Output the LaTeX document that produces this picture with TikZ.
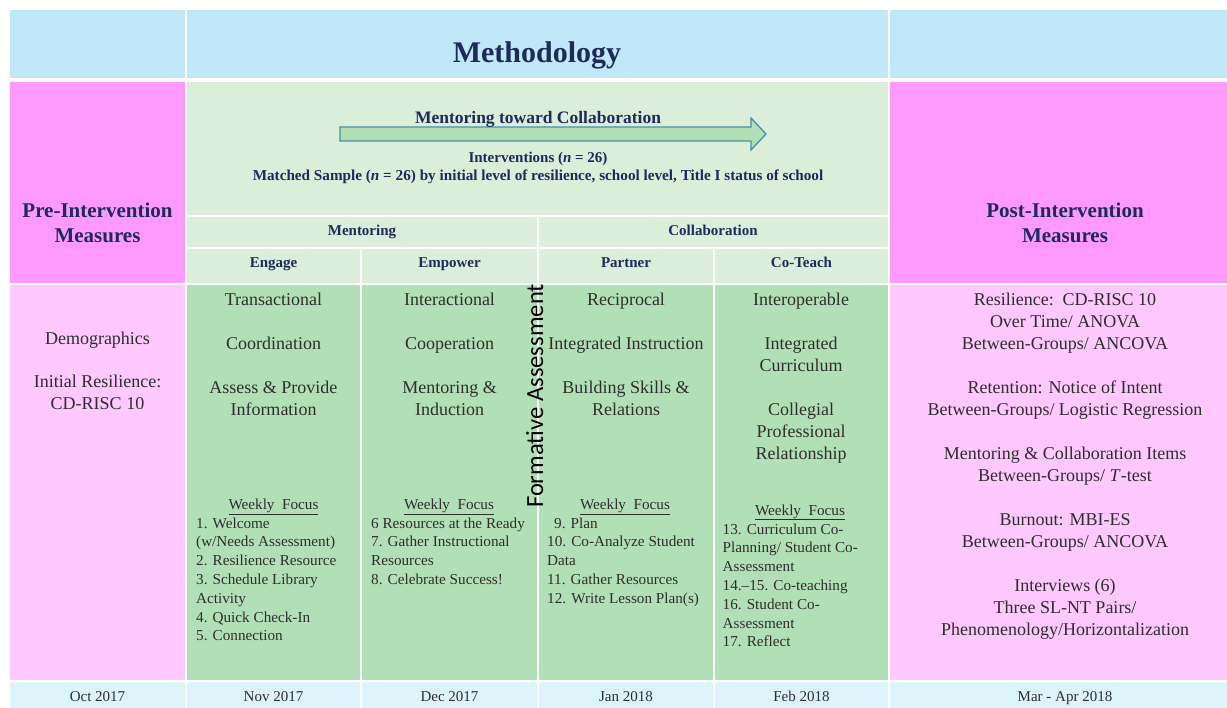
\documentclass[tikz,border=0pt]{standalone}
\usepackage{fontspec}
\setmainfont{Liberation Serif}
\newfontfamily\calibfont{Carlito}
\definecolor{titleblue}{HTML}{C0E8F8}
\definecolor{pinkhd}{HTML}{FF99FF}
\definecolor{pinklt}{HTML}{FFC8FF}
\definecolor{greenlt}{HTML}{DAEEDA}
\definecolor{greenmd}{HTML}{B2E0B6}
\definecolor{footc}{HTML}{DDF3FA}
\definecolor{navy}{HTML}{1C2B5A}
\definecolor{txt}{HTML}{2E2E2E}
\definecolor{arrowline}{HTML}{4A8FA8}
\tikzset{
  lbl/.style={inner sep=0pt, anchor=base},
  hdr/.style={lbl, text=navy, font=\bfseries\fontsize{15}{18}\selectfont},
  bigtitle/.style={lbl, text=navy, font=\bfseries\fontsize{30}{36}\selectfont},
  measure/.style={lbl, text=navy, align=center, font=\bfseries\fontsize{21}{24.7}\selectfont},
  body/.style={lbl, text=txt, align=center, font=\fontsize{18}{22}\selectfont},
  wkhead/.style={lbl, text=txt, font=\fontsize{15.2}{18.8}\selectfont},
  wklist/.style={inner sep=0pt, anchor=base west, text=txt, align=left, font=\fontsize{15.2}{18.8}\selectfont},
  datelbl/.style={lbl, text=txt, font=\fontsize{15}{18}\selectfont},
}
\begin{document}
\begin{tikzpicture}[x=1pt,y=-1pt]
\useasboundingbox (0,0) rectangle (1227,708);
\fill[white] (0,0) rectangle (1227,708);
% title row
\fill[titleblue] (10,10) rectangle (185,78);
\fill[titleblue] (187,10) rectangle (888,78);
\fill[titleblue] (890,10) rectangle (1240,78);
% header row
\fill[pinkhd] (10,82) rectangle (185,283);
\fill[greenlt] (187,82) rectangle (888,215);
\fill[greenlt] (187,217) rectangle (537,247);
\fill[greenlt] (539,217) rectangle (888,247);
\fill[greenlt] (187,249) rectangle (360,283);
\fill[greenlt] (362,249) rectangle (537,283);
\fill[greenlt] (539,249) rectangle (713,283);
\fill[greenlt] (715,249) rectangle (888,283);
\fill[pinkhd] (890,82) rectangle (1240,283);
% body row
\fill[pinklt] (10,285) rectangle (185,680);
\fill[greenmd] (187,285) rectangle (360,680);
\fill[greenmd] (362,285) rectangle (537,680);
\fill[greenmd] (539,285) rectangle (713,680);
\fill[greenmd] (715,285) rectangle (888,680);
\fill[pinklt] (890,285) rectangle (1240,680);
% footer row
\fill[footc] (10,682) rectangle (185,710);
\fill[footc] (187,682) rectangle (360,710);
\fill[footc] (362,682) rectangle (537,710);
\fill[footc] (539,682) rectangle (713,710);
\fill[footc] (715,682) rectangle (888,710);
\fill[footc] (890,682) rectangle (1240,710);

% title
\node[bigtitle] (title) at (537,62.5) {Methodology};

% arrow
\draw[arrowline, line width=1.3pt, fill=greenmd, line join=miter]
  (340,127) -- (751,127) -- (751,118) -- (766,134) -- (751,150) -- (751,141) -- (340,141) -- cycle;
\node[hdr, font=\bfseries\fontsize{17.5}{20}\selectfont] (mtc) at (538,124) {Mentoring toward Collaboration};
\node[hdr] (interv) at (538,162.5) {Interventions (\textit{n} = 26)};
\node[hdr, font=\bfseries\fontsize{15.2}{18}\selectfont] (matched) at (538,181) {Matched Sample (\textit{n} = 26) by initial level of resilience, school level, Title I status of school};

% measures headers (base anchor = last line)
\node[measure] (pre) at (97.5,242.7) {Pre-Intervention\\Measures};
\node[measure] (post) at (1065,242.7) {Post-Intervention\\Measures};

% phase headers
\node[hdr] (mentoring) at (362,235.5) {Mentoring};
\node[hdr] (collab) at (713,235.5) {Collaboration};
\node[hdr] (engage) at (273.5,268) {Engage};
\node[hdr] (empower) at (449.5,268) {Empower};
\node[hdr] (partner) at (626,268) {Partner};
\node[hdr] (coteach) at (801.5,268) {Co-Teach};

% left column
\node[body] (pretext) at (97.5,410) {Demographics\\[22pt]Initial Resilience:\\CD-RISC 10};

% engage
\node[body] (engbody) at (273.5,416) {Transactional\\[22pt]Coordination\\[22pt]Assess \& Provide\\Information};
\node[wkhead] (engwk) at (273.5,509.5) {\underline{Weekly\ \ Focus}};
\node[wklist] (englist) at (196,640.8) {1. Welcome\\(w/Needs Assessment)\\2. Resilience Resource\\3. Schedule Library\\Activity\\4. Quick Check-In\\5. Connection};

% empower
\node[body] (empbody) at (449.5,416) {Interactional\\[22pt]Cooperation\\[22pt]Mentoring \&\\Induction};
\node[wkhead] (empwk) at (449,509.5) {\underline{Weekly\ \ Focus}};
\node[wklist] (emplist) at (371,584.4) {6 Resources at the Ready\\7. Gather Instructional\\Resources\\8. Celebrate Success!};

% partner
\node[body] (parbody) at (626,416) {Reciprocal\\[22pt]Integrated Instruction\\[22pt]Building Skills \&\\Relations};
\node[wkhead] (parwk) at (625,509.5) {\underline{Weekly\ \ Focus}};
\node[wklist] (parlist) at (547,603.2) {\hspace*{7pt}9. Plan\\10. Co-Analyze Student\\Data\\11. Gather Resources\\12. Write Lesson Plan(s)};

% co-teach
\node[body] (cotbody) at (801,460) {Interoperable\\[22pt]Integrated\\Curriculum\\[22pt]Collegial\\Professional\\Relationship};
\node[wkhead] (cotwk) at (800,515) {\underline{Weekly\ \ Focus}};
\node[wklist] (cotlist) at (722.5,646.8) {13. Curriculum Co-\\Planning/ Student Co-\\Assessment\\14.--15. Co-teaching\\16. Student Co-\\Assessment\\17. Reflect};

% formative assessment
\node[inner sep=0pt, anchor=base, rotate=90, text=black, font=\calibfont\fontsize{24.6}{28}\selectfont] (formative) at (543,396) {Formative Assessment};

% right column
\node[body] (posttext) at (1065,635) {Resilience:\ \ CD-RISC 10\\Over Time/ ANOVA\\Between-Groups/ ANCOVA\\[22pt]Retention: Notice of Intent\\Between-Groups/ Logistic Regression\\[22pt]Mentoring \& Collaboration Items\\Between-Groups/ \textit{T}-test\\[22pt]Burnout: MBI-ES\\Between-Groups/ ANCOVA\\[22pt]Interviews (6)\\Three SL-NT Pairs/\\Phenomenology/Horizontalization};

% dates
\node[datelbl] (d1) at (97.5,701) {Oct 2017};
\node[datelbl] (d2) at (273.5,701) {Nov 2017};
\node[datelbl] (d3) at (449.5,701) {Dec 2017};
\node[datelbl] (d4) at (626,701) {Jan 2018};
\node[datelbl] (d5) at (801.5,701) {Feb 2018};
\node[datelbl] (d6) at (1065,701) {Mar - Apr 2018};
\end{tikzpicture}
\end{document}
